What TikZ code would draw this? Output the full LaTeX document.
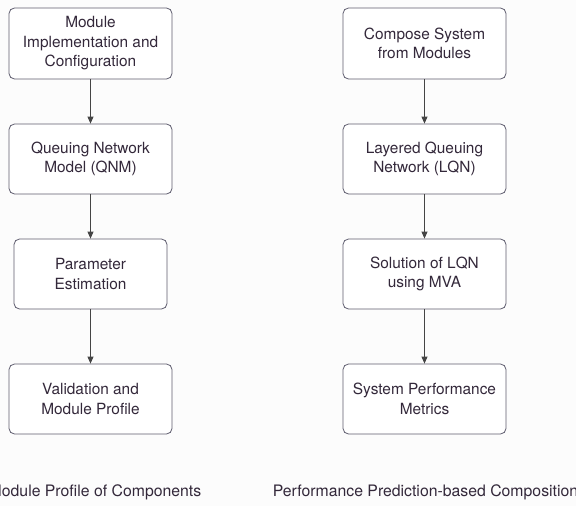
\documentclass[tikz,border=0pt]{standalone}
\usepackage{fontspec}
\setmainfont{TeX Gyre Heros}
\usetikzlibrary{arrows.meta}
\definecolor{boxline}{HTML}{5E5C6E}
\definecolor{txt}{HTML}{33283A}
\definecolor{arr}{HTML}{454545}
\definecolor{bg}{HTML}{FCFCFC}
\begin{document}
\begin{tikzpicture}[x=1pt,y=-1pt,
  flowbox/.style={draw=boxline, line width=0.8pt, rounded corners=5.5pt, fill=white,
    text=txt, align=center, minimum height=70pt, inner sep=0pt,
    font=\fontsize{15.4}{19.5}\selectfont,
    execute at begin node={\rule{0pt}{15pt}}},
  flowarrow/.style={draw=arr, line width=0.8pt, -{Triangle[length=7pt,width=6pt]}},
  caption/.style={text=txt, font=\fontsize{15.8}{19}\selectfont, inner sep=0pt}]
\fill[bg] (0,0) rectangle (576,506);
\useasboundingbox (0,0) rectangle (576,506);
% left column
\node[flowbox, minimum width=163pt, minimum height=71pt] (l1) at (90.5,43.5) {Module\\Implementation and\\Configuration};
\node[flowbox, minimum width=163pt] (l2) at (90.5,159) {Queuing Network\\Model (QNM)};
\node[flowbox, minimum width=153pt] (l3) at (90.5,274) {Parameter\\Estimation};
\node[flowbox, minimum width=163pt] (l4) at (90.5,399) {Validation and\\Module Profile};
% right column
\node[flowbox, minimum width=163pt, minimum height=71pt] (r1) at (424.5,43.5) {Compose System\\from Modules};
\node[flowbox, minimum width=163pt] (r2) at (424.5,159) {Layered Queuing\\Network (LQN)};
\node[flowbox, minimum width=163pt] (r3) at (424.5,274) {Solution of LQN\\using MVA};
\node[flowbox, minimum width=163pt] (r4) at (424.5,399) {System Performance\\Metrics};
% arrows
\draw[flowarrow] (l1) -- (l2);
\draw[flowarrow] (l2) -- (l3);
\draw[flowarrow] (l3) -- (l4);
\draw[flowarrow] (r1) -- (r2);
\draw[flowarrow] (r2) -- (r3);
\draw[flowarrow] (r3) -- (r4);
% captions
\node[caption] (capl) at (95,492) {Module Profile of Components};
\node[caption] (capr) at (425.5,492) {Performance Prediction-based Composition};
\end{tikzpicture}
\end{document}
